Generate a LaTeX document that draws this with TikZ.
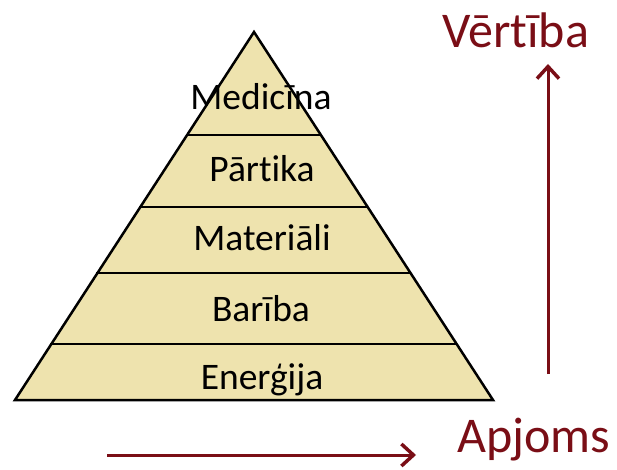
\documentclass[tikz,border=0pt]{standalone}
\usepackage{fontspec}
\setmainfont{Carlito}[Ligatures=NoCommon]
\usetikzlibrary{arrows.meta,calc}
\definecolor{pyrfill}{RGB}{238,227,174}
\definecolor{darkred}{RGB}{122,14,22}
\tikzset{
  lvl/.style={font=\fontsize{37.5}{40}\selectfont, text=black, inner sep=0pt, anchor=base},
  axislabel/.style={font=\fontsize{50}{54}\selectfont, text=darkred, inner sep=0pt, anchor=base west},
  axisarrow/.style={draw=darkred, line width=3pt, -{Straight Barb[length=12pt,width=22pt,line width=3.5pt]}},
  sep/.style={draw=black, line width=2.5pt},
}
\begin{document}
\begin{tikzpicture}[x=1pt,y=-1pt]
\useasboundingbox (0,0) rectangle (617,470);
\coordinate (apex) at (254,32);
\coordinate (bl) at (15,400);
\coordinate (br) at (493,400);
\filldraw[fill=pyrfill, draw=black, line width=2.5pt, line join=miter] (apex) -- (bl) -- (br) -- cycle;
\foreach \y/\n in {135/a,207/b,273/c,344/d}{
  \pgfmathsetmacro{\t}{(\y-32)/368}
  \coordinate (L\n) at ($(apex)!\t!(bl)$);
  \coordinate (R\n) at ($(apex)!\t!(br)$);
  \draw[sep] ($(L\n)+(-1,0)$) -- (R\n);
}
\node[lvl] (med) at (261,110) {Medicīna};
\node[lvl] (par) at (262,182) {Pārtika};
\node[lvl] (mat) at (262,250) {Materiāli};
\node[lvl] (bar) at (261,321) {Barība};
\node[lvl] (ene) at (262,389) {Enerģija};
\coordinate (hs) at (107,455);
\coordinate (he) at (416,455);
\draw[axisarrow] (hs) -- (he);
\coordinate (vs) at (548,374);
\coordinate (ve) at (548,64);
\draw[axisarrow] (vs) -- (ve);
\node[axislabel] (apj) at (457,452) {Apjoms};
\node[axislabel] (ver) at (442,48) {Vērtība};
\end{tikzpicture}
\end{document}
